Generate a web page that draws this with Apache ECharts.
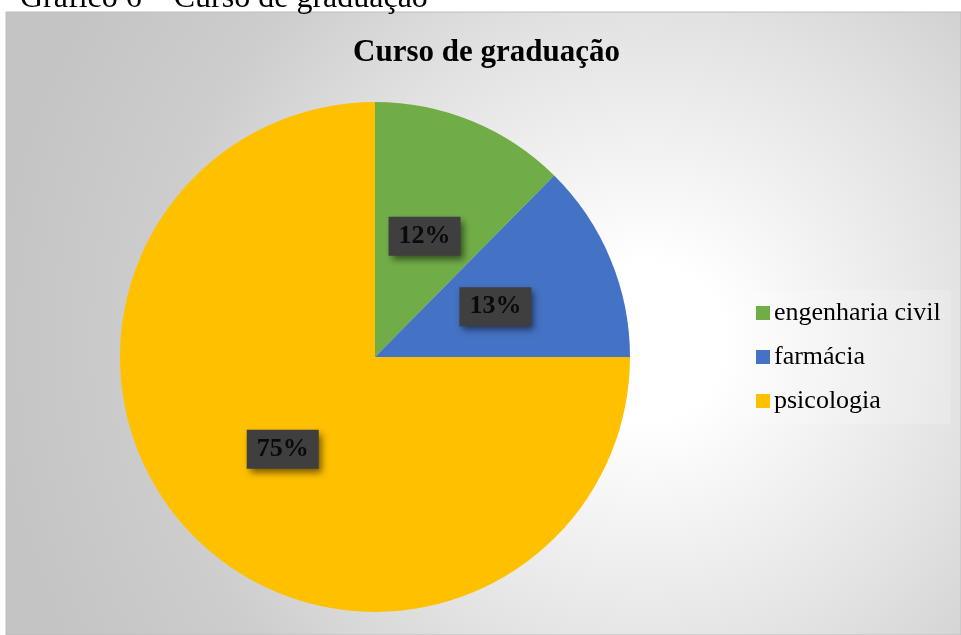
<!DOCTYPE html>
<html>
<head>
<meta charset="utf-8">
<script src="https://cdn.jsdelivr.net/npm/echarts@6/dist/echarts.min.js"></script>
<style>
  html, body { margin: 0; padding: 0; background: #fff; }
  #chart { width: 961px; height: 635px; }
</style>
</head>
<body>
<div id="chart"></div>
<script>
var categories = ['engenharia civil', 'farmácia', 'psicologia'];
var shares = [12.4, 12.6, 75];
var colors = ['#70AD47', '#4472C4', '#FFC000'];

var serif = '"Liberation Serif", "Times New Roman", serif';

var pieData = categories.map(function(name, i) {
    return {name: name, value: shares[i], itemStyle: {color: colors[i]}};
});

var option = {
    animation: false,
    graphic: [
        {
            type: 'text',
            left: 20,
            top: -17,
            silent: true,
            style: {
                text: 'Gráfico 6 – Curso de graduação',
                font: '32px ' + serif,
                fill: '#000'
            }
        },
        {
            type: 'rect',
            z: -10,
            silent: true,
            shape: {x: 6, y: 12, width: 955, height: 623},
            style: {
                fill: {
                    type: 'radial', x: 0.67, y: 0.53, r: 1.05,
                    colorStops: [
                        {offset: 0, color: '#ffffff'},
                        {offset: 0.12, color: '#ffffff'},
                        {offset: 0.5, color: '#e2e2e2'},
                        {offset: 0.75, color: '#cdcdcd'},
                        {offset: 1, color: '#c4c4c4'}
                    ]
                },
                stroke: '#bdbdbd',
                lineWidth: 1
            }
        }
    ],
    title: {
        text: 'Curso de graduação',
        left: 353,
        top: 37,
        padding: 0,
        textStyle: {
            fontFamily: serif,
            fontWeight: 'bold',
            fontSize: 31,
            color: '#000'
        }
    },
    legend: {
        orient: 'vertical',
        left: 743,
        top: 290,
        padding: [10, 10, 10, 13],
        backgroundColor: 'rgba(255,255,255,0.18)',
        itemWidth: 14,
        itemHeight: 14,
        itemGap: 18,
        icon: 'rect',
        data: categories,
        textStyle: {
            fontFamily: serif,
            fontSize: 26,
            color: '#000',
            padding: [0, 0, 0, -1]
        }
    },
    series: [{
        type: 'pie',
        center: [375, 357],
        radius: 255,
        startAngle: 90,
        clockwise: true,
        silent: true,
        label: {
            position: 'inside',
            formatter: function(p) { return Math.round(p.value) + '%'; },
            fontFamily: serif,
            fontWeight: 'bold',
            fontSize: 26,
            color: '#0a0a0a',
            lineHeight: 27,
            backgroundColor: '#3f3f3f',
            padding: [6, 10, 6, 10],
            shadowColor: 'rgba(0,0,0,0.55)',
            shadowBlur: 7,
            shadowOffsetX: 3,
            shadowOffsetY: 4
        },
        labelLine: {show: false},
        data: pieData
    }]
};

var chart = echarts.init(document.getElementById('chart'));
chart.setOption(option);
</script>
</body>
</html>
